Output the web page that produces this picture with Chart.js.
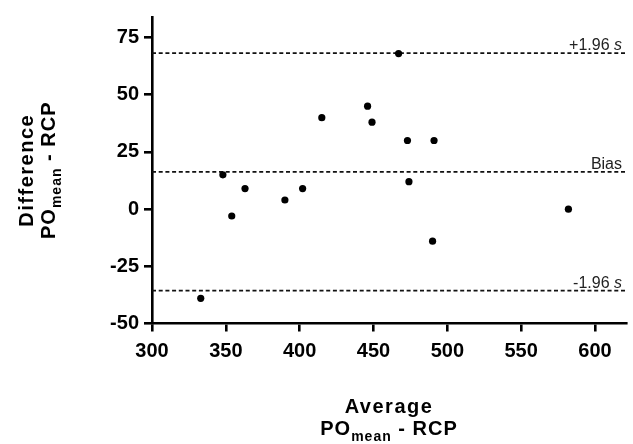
<!DOCTYPE html>
<html>
<head>
<meta charset="utf-8">
<script src="https://cdn.jsdelivr.net/npm/chart.js@4.4.1/dist/chart.umd.min.js"></script>
<style>
  html, body { margin: 0; padding: 0; background: #fff; }
  #wrap { width: 633px; height: 444px; }
</style>
</head>
<body>
<div id="wrap"><canvas id="ba" width="633" height="444"></canvas></div>
<script>
// Bland-Altman data
const avgValues = [333, 348, 354, 363, 390, 402, 415, 446, 449, 467, 473, 474, 491, 490, 582];
const diffValues = [-39, 15, -3, 9, 4, 9, 40, 45, 38, 68, 30, 12, 30, -14, 0];
const bias = 16.3;
const upperLoA = 68.2;
const lowerLoA = -35.6;
const xTicks = [300, 350, 400, 450, 500, 550, 600];
const yTicks = [-50, -25, 0, 25, 50, 75];
const xMin = 300, xMax = 621;
const yMin = -50, yMax = 84;

const FONT = "'Liberation Sans', Arial, sans-serif";

const points = avgValues.map((x, i) => ({ x, y: diffValues[i] }));
const hline = (v) => [{ x: xMin, y: v }, { x: xMax, y: v }];

function lineDs(v) {
  return {
    data: hline(v),
    showLine: true,
    borderColor: '#111',
    borderWidth: 1.8,
    borderDash: [4, 2.7],
    pointRadius: 0,
    fill: false
  };
}

// draws one text line made of parts [text, size, yShift, italic, bold], centred on cx
function drawParts(ctx, parts, cx, baseline, spacing, align) {
  const fontOf = (p) => (p[3] ? 'italic ' : '') + (p[4] === false ? '' : 'bold ') + p[1] + 'px ' + FONT;
  ctx.letterSpacing = spacing + 'px';
  let w = 0;
  parts.forEach((p) => { ctx.font = fontOf(p); w += ctx.measureText(p[0]).width; });
  let x = align === 'right' ? cx - w : cx - w / 2;
  ctx.textAlign = 'left';
  ctx.textBaseline = 'alphabetic';
  parts.forEach((p) => {
    ctx.font = fontOf(p);
    ctx.fillText(p[0], x, baseline + (p[2] || 0));
    x += ctx.measureText(p[0]).width;
  });
  ctx.letterSpacing = '0px';
}

const titles = {
  id: 'titles',
  afterDraw(chart) {
    const { ctx, chartArea: a, scales } = chart;
    ctx.save();
    ctx.fillStyle = '#000';
    const cx = (a.left + a.right) / 2;
    drawParts(ctx, [['Average', 20]], cx, 413, 1.5);
    drawParts(ctx, [['PO', 20], ['mean', 14, 6], [' - RCP', 20]], cx, 435, 1);

    const cy = (a.top + a.bottom) / 2;
    ctx.save();
    ctx.translate(33, cy);
    ctx.rotate(-Math.PI / 2);
    drawParts(ctx, [['Difference', 20]], 0, 0, 1.5);
    ctx.restore();
    ctx.save();
    ctx.translate(55, cy);
    ctx.rotate(-Math.PI / 2);
    drawParts(ctx, [['PO', 20], ['mean', 14, 6], [' - RCP', 20]], 0, 0, 1);
    ctx.restore();

    // labels on the reference lines
    ctx.fillStyle = '#222';
    const rx = scales.x.getPixelForValue(xMax) - 4;
    const lab = [
      [upperLoA, [['+1.96 ', 16, 0, false, false], ['s', 16, 0, true, false]]],
      [bias, [['Bias', 16, 0, false, false]]],
      [lowerLoA, [['-1.96 ', 16, 0, false, false], ['s', 16, 0, true, false]]]
    ];
    lab.forEach(([v, parts]) => {
      drawParts(ctx, parts, rx, scales.y.getPixelForValue(v) - 3, 0, 'right');
    });
    ctx.restore();
  }
};

const axisGrid = {
  display: true,
  drawOnChartArea: false,
  drawTicks: true,
  tickLength: 8,
  color: '#000',
  lineWidth: 2.6
};

new Chart(document.getElementById('ba'), {
  type: 'scatter',
  data: {
    datasets: [
      {
        data: points,
        backgroundColor: '#000',
        borderWidth: 0,
        pointRadius: 3.6,
        pointHoverRadius: 3.6
      },
      lineDs(upperLoA),
      lineDs(bias),
      lineDs(lowerLoA)
    ]
  },
  options: {
    responsive: false,
    animation: false,
    devicePixelRatio: 1,
    layout: { padding: { left: 0, top: 9, right: 7, bottom: 0 } },
    plugins: { legend: { display: false }, tooltip: { enabled: false } },
    scales: {
      x: {
        type: 'linear',
        min: xMin,
        max: xMax,
        afterBuildTicks: (s) => { s.ticks = xTicks.map((v) => ({ value: v })); },
        afterFit: (s) => { s.height = 120.5; },
        grid: axisGrid,
        border: { display: true, color: '#000', width: 2.6 },
        ticks: {
          color: '#000',
          padding: 8,
          maxRotation: 0,
          font: { family: FONT, size: 20, weight: 'bold' }
        }
      },
      y: {
        type: 'linear',
        min: yMin,
        max: yMax,
        afterBuildTicks: (s) => { s.ticks = yTicks.map((v) => ({ value: v })); },
        afterFit: (s) => { s.width = 152; },
        grid: axisGrid,
        border: { display: true, color: '#000', width: 2.6 },
        ticks: {
          color: '#000',
          padding: 5,
          font: { family: FONT, size: 20, weight: 'bold' }
        }
      }
    }
  },
  plugins: [titles]
});
</script>
</body>
</html>
